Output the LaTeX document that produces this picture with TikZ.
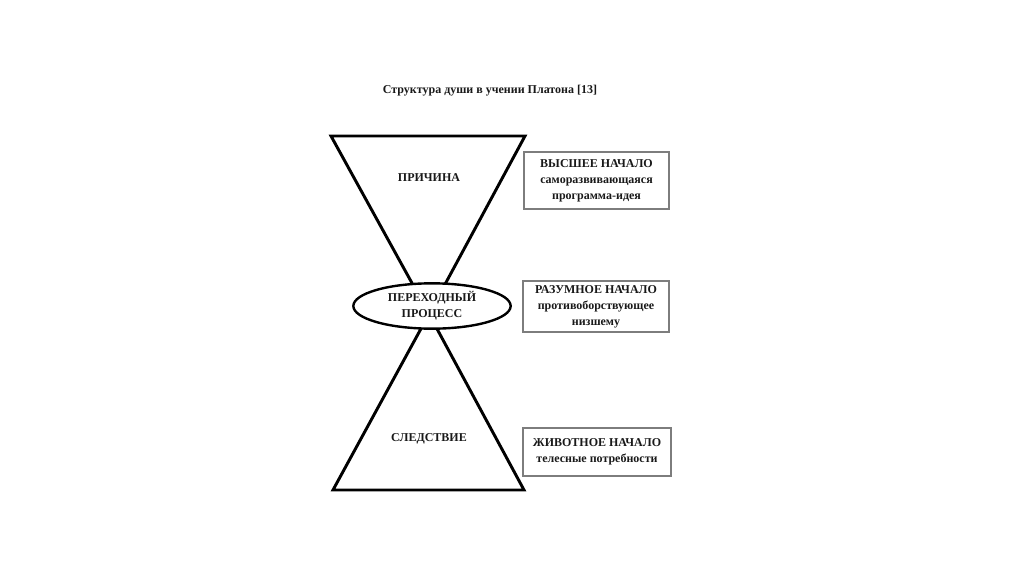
\documentclass[tikz,border=0pt]{standalone}
\usepackage{fontspec}
\setmainfont{Liberation Serif}
\usetikzlibrary{shapes.geometric,positioning}
\definecolor{framegray}{RGB}{125,125,125}
\definecolor{inkdark}{RGB}{25,25,25}

\begin{document}
\begin{tikzpicture}[x=0.75pt,y=-0.75pt,
    font=\bfseries\fontsize{9}{12}\selectfont, text=inkdark,
    glass/.style={draw=black, line width=2.2pt, line join=miter},
    infobox/.style={draw=framegray, line width=1pt, align=center, inner sep=2pt}]
  \useasboundingbox (0,0) rectangle (1024,574);
  % title
  \node (title) at (490,91) {Структура души в учении Платона [13]};
  % hourglass: two triangles meeting in the middle
  \coordinate (tl) at (331,136);
  \coordinate (tr) at (525,136);
  \coordinate (mid) at (429,314);
  \coordinate (bl) at (333,490);
  \coordinate (br) at (524,490);
  \draw[glass] (tl) -- (tr) -- (mid) -- cycle;
  \draw[glass] (bl) -- (br) -- (mid) -- cycle;
  \node (cause) at (429,178) {ПРИЧИНА};
  \node (effect) at (429,439) {СЛЕДСТВИЕ};
  % transition in the waist
  \node[ellipse, draw=black, line width=1.8pt, fill=white, align=center,
    minimum width=118pt, minimum height=34pt, inner sep=0pt]
    (trans) at (432,306) {ПЕРЕХОДНЫЙ\\ПРОЦЕСС};
  % the three principles
  \node[infobox, minimum width=108.75pt, minimum height=42.75pt]
    (high) at (596.5,180.5) {ВЫСШЕЕ НАЧАЛО\\саморазвивающаяся\\программа-идея};
  \node[infobox, minimum width=109.5pt, minimum height=38.25pt]
    (reason) at (596,306.5) {РАЗУМНОЕ НАЧАЛО\\противоборствующее\\низшему};
  \node[infobox, minimum width=111pt, minimum height=36pt]
    (animal) at (597,452) {ЖИВОТНОЕ НАЧАЛО\\телесные потребности};
\end{tikzpicture}
\end{document}
